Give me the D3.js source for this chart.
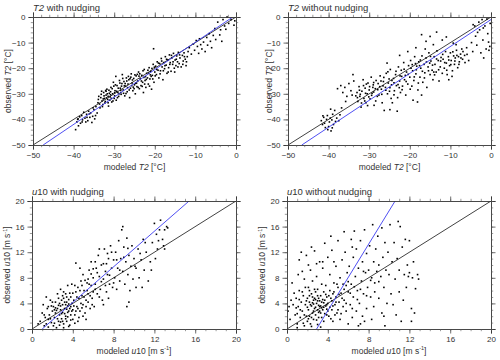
<!DOCTYPE html>
<html><head><meta charset="utf-8">
<script src="https://cdn.jsdelivr.net/npm/d3@7"></script>
<style>body{margin:0;background:#fff}svg{display:block;font-family:"Liberation Sans",Arial,sans-serif}</style>
</head><body><svg id="c" width="500" height="360"></svg>
<script>
const t2Ticks=[-50,-40,-30,-20,-10,0];
const u10Ticks=[0,4,8,12,16,20];
const t2Nudge=[[-39.5,-44],[-39.2,-41],[-39,-40],[-38.8,-42.5],[-38.5,-39],[-38.3,-41.5],[-38,-38.5],[-37.8,-40.2],[-37.5,-37.2],[-37.2,-39.5],[-37,-41],[-36.8,-38],[-36.5,-40.5],[-36.3,-36.8],[-36,-39.2],[-35.8,-37.5],[-35.5,-41.2],[-35.3,-38.8],[-35,-36.2],[-34.8,-39.8],[-34.5,-35],[-34.2,-37.5],
[-34,-33.5],[-33.8,-31],[-33.5,-35.5],[-33.2,-30.2],[-33,-32.8],[-32.8,-34.2],[-32.6,-29.5],[-32.4,-31.8],[-32.2,-33],[-32,-30.5],[-31.8,-28.2],[-31.6,-32.2],[-31.4,-34.8],[-31.2,-29.8],[-31,-31.2],[-30.8,-27.5],[-30.6,-33.2],[-30.4,-30],[-30.2,-25.5],[-30,-31.8],[-29.8,-28.8],[-29.6,-23.2],[-29.5,-32.5],[-29.3,-26.8],[-29.1,-29.5],[-28.9,-31],[-28.7,-24.8],[-28.5,-27.8],[-28.3,-30.2],[-28.1,-26],[-28,-22.5],
[-27.8,-28.5],[-27.6,-25.2],[-27.4,-30.8],[-27.2,-27],[-27,-23.8],[-26.8,-29.2],[-26.6,-26.2],[-26.4,-24.5],[-26.2,-31.5],[-26,-27.8],[-25.8,-22.2],[-25.6,-25.8],[-25.4,-28.8],[-25.2,-24],[-25,-26.5],[-24.8,-30],[-24.6,-23],[-24.4,-27.2],[-24.2,-25],[-24,-21.5],[-23.8,-28],[-23.6,-24.2],[-23.4,-26.8],[-23.2,-22.8],[-23,-25.5],[-22.8,-29.5],[-22.6,-20.5],[-22.4,-24.8],[-22.2,-27.5],[-22,-22],[-21.8,-23.8],[-21.6,-26.2],[-21.4,-19.8],[-21.2,-24.2],[-21,-21.2],[-20.8,-28.2],[-20.6,-22.8],[-20.4,-18.5],[-20.2,-25.5],[-20,-21.5],
[-27.5,-26.9],[-26.9,-25],[-26.1,-24.1],[-25.3,-27.4],[-24.7,-25.9],[-23.9,-23.1],[-23.1,-27.1],[-22.3,-23.3],[-21.5,-21.9],[-20.7,-20.1],[-29.9,-29.6],[-30.9,-30.4],[-31.5,-31],[-32.1,-28.7],[-28.4,-28.6],[-27.1,-29.9],[-25.9,-23.5],[-24.3,-22.4],[-22.9,-21],[-21.1,-22.6],[-20.3,-12.4],
[-19.8,-19.2],[-19.6,-22.5],[-19.4,-17.5],[-19.2,-20.8],[-19,-23.8],[-18.8,-18.2],[-18.6,-21],[-18.4,-16.2],[-18.2,-19.5],[-18,-24.5],[-17.8,-17.8],[-17.6,-20.2],[-17.4,-15.5],[-17.2,-18.8],[-17,-22],[-16.8,-16.8],[-16.6,-19.8],[-16.4,-14.8],[-16.2,-17.8],[-16,-21.2],[-15.8,-16],[-15.6,-18.5],[-15.4,-14.2],[-15.2,-20],[-15,-16.8],[-14.8,-19],[-14.6,-15.2],[-14.4,-17.5],[-14.2,-13.8],[-14,-18.2],[-13.8,-16],[-13.5,-19.5],[-13.2,-15],[-13,-17.2],[-12.8,-14],[-12.5,-16.5],[-12.3,-19],[-12,-15.5],
[-11.5,-12],[-11,-14.5],[-10.5,-10.5],[-10.2,-13],[-9.8,-9.2],[-9.5,-11.5],[-9.2,-14.2],[-9,-8.5],[-8.7,-10.8],[-8.4,-12.5],[-8,-9.8],[-7.6,-13.5],[-7.2,-8],[-7,-11],[-6.6,-6.5],[-6.3,-9.5],[-6,-12],[-5.6,-7.2],[-5.2,-4.5],[-5,-8.8],
[-4.5,-2],[-3.8,-5],[-3.2,-1],[-2.8,-3.5],[-2.2,0],[-1.8,-2.5],[-1.2,-1],[-0.5,-3.2],[-0.3,-1.5],[-2.5,-4.8],[-4,-7],[-3.5,-9.5],
[-33.9,-32.2],[-33.6,-34],[-33.3,-31.5],[-33.1,-29],[-32.9,-35],[-32.7,-32],[-32.5,-30.8],[-32.3,-33.6],[-32,-29],[-31.9,-31.6],[-31.7,-30],[-31.5,-33.5],[-31.3,-28.6],[-31.1,-32.5],[-30.9,-29.2],[-30.7,-31.8],[-30.5,-28],[-30.3,-32.8],[-30.1,-27],[-29.9,-30.8],[-29.7,-26.5],[-29.4,-29],[-29.2,-31.5],[-29,-27.8],[-28.8,-30],[-28.6,-25.8],[-28.4,-29.5],[-28.2,-27],[-27.9,-24],[-27.7,-29.8],[-27.3,-26],[-26.7,-27.6],[-26.5,-23.2],[-26.3,-28.5],[-25.7,-26.8],[-25.5,-24.6],[-25.1,-28],[-24.9,-22.6],[-24.5,-25.8],[-24.1,-27.5],[-23.7,-22.2],[-23.3,-25],[-22.7,-23.6],[-22.5,-26.2],[-22.1,-24.4],[-21.7,-20.8],[-21.3,-27],[-20.9,-23.2],[-20.5,-24.2],[-20.1,-19.6],[-19.9,-23],[-19.5,-20.5],[-19.1,-18],[-18.7,-22.2],[-18.3,-17.2],[-17.9,-21],[-17.5,-19],[-17.1,-16.5],[-16.7,-21.5],[-16.3,-18.5],[-15.9,-15],[-15.5,-17.5],[-15.1,-21.5],[-14.7,-16.5],[-14.3,-19.5],[-13.9,-14.8],[-13.1,-18.5],[-12.7,-15.5],[-12.2,-17.5],[-11.8,-13.5],[-36.7,-39.2],[-37.9,-41],[-35.2,-35.5],[-34.6,-38.5],[-38.9,-39.8],[-36.1,-37.8]];
const t2Free=[[-41.8,-40.5],[-41.5,-42],[-41.2,-39.2],[-41,-41.5],[-40.8,-43.2],[-40.5,-40],[-40.3,-38.5],[-40,-42.8],[-39.8,-41],[-39.6,-39.5],[-39.4,-44.5],[-39.2,-40.2],[-39,-38],[-38.8,-42],[-38.5,-36.5],[-38.3,-40.8],[-38,-39.5],[-37.5,-40.5],[-37.2,-38.2],[-39.5,-36],[-40.2,-44],[-39.1,-43.3],[-41.4,-38.6],
[-37.8,-28],[-37,-26.8],[-36.5,-29.5],[-36,-27.5],[-35.5,-31],[-35,-26],[-34.5,-28.8],[-34,-22.5],[-33.8,-25],[-35.8,-33],[-36.8,-35.5],[-34.2,-30.5],
[-33,-29.5],[-32.8,-33],[-32.5,-27.2],[-32.3,-31],[-32,-35.2],[-31.8,-29],[-31.5,-24.5],[-31.3,-31.8],[-31,-27.8],[-30.8,-33.5],[-30.5,-30],[-30.3,-25.8],[-30,-28.5],[-29.8,-32],[-29.5,-23.5],[-29.3,-29.8],[-29,-26.5],[-28.8,-34.5],[-28.5,-28],[-28.3,-24.8],[-28,-31],[-32.2,-30.2],[-31.1,-32.8],[-30.1,-31.2],[-29.1,-27.5],[-33.3,-30.8],[-30.7,-26.2],[-28.9,-29.3],
[-27.8,-26],[-27.6,-30.5],[-27.3,-23],[-27,-28.2],[-26.8,-33.5],[-26.5,-25.2],[-26.3,-36.5],[-26,-27.5],[-25.8,-22],[-25.5,-30],[-25.3,-25.8],[-25,-29],[-24.8,-20.5],[-24.5,-26.5],[-24.3,-33.5],[-24,-24],[-23.8,-28.8],[-23.5,-22.5],[-23.3,-26.8],[-23,-31.5],[-22.8,-19.5],[-22.5,-25],[-22.3,-29.5],[-22,-23.2],[-21.8,-27],[-21.5,-17.8],[-21.3,-24.5],[-21,-30.5],[-20.8,-21.5],[-20.5,-26.2],[-20.3,-19],[-20,-23.5],[-26.6,-26.9],[-25.1,-24.2],[-23.9,-25.7],[-22.6,-27.6],[-21.1,-22.8],[-27.1,-25],[-24.6,-31.8],[-22.1,-20.8],[-23.1,-36.8],[-24.9,-36.2],[-25.6,-18],
[-19.8,-17],[-19.5,-27],[-19.3,-21],[-19,-24.8],[-18.8,-15.5],[-18.5,-22.2],[-18.3,-19.2],[-18,-28.5],[-17.8,-17.5],[-17.5,-23.5],[-17.3,-20],[-17,-15.2],[-16.8,-25.5],[-16.5,-18.5],[-16.3,-21.8],[-16,-16],[-15.8,-27.5],[-15.5,-19.5],[-15.3,-14],[-15,-22.5],[-14.8,-17.2],[-14.5,-20.8],[-14.3,-24.5],[-14,-15.5],[-13.8,-18.5],[-13.5,-21.5],[-13.3,-13.2],[-13,-17],[-12.8,-25],[-12.5,-19.5],[-12.3,-15.8],[-12,-22],[-19.2,-32.5],[-18.1,-33.2],[-17.1,-30.5],[-16.2,-12.5],[-19.7,-20],[-18.6,-18.2],[-17.6,-19],[-15.1,-18],[-14.1,-21.5],
[-17.1,-6.9],[-15,-7.6],[-13.4,-5.9],[-9.3,-10.2],[-16,-9.5],[-14.2,-10.8],[-12,-9],[-18.5,-12],[-20.5,-13.5],[-22.5,-15],[-11,-7.8],
[-11.8,-16.5],[-11.5,-20],[-11.2,-13.5],[-11,-18],[-10.8,-22.5],[-10.5,-15.5],[-10.2,-19],[-10,-14],[-9.8,-17],[-9.5,-21],[-9.2,-15.2],[-9,-18.5],[-8.8,-16],[-8.5,-13],[-8.2,-19.8],[-8,-15.5],[-7.8,-17.5],[-7.5,-14.5],[-7.2,-12.5],[-7,-16.5],[-6.5,-15],[-6,-12],[-5.5,-17],[-10.4,-24.5],[-9.6,-23.2],[-8.6,-10.8],
[-4.8,-10],[-4.5,-13.5],[-4,-3.5],[-3.8,-7.5],[-3.5,-11],[-3,-2],[-2.8,-5],[-2.5,-14],[-2.2,-1],[-2,-9],[-1.5,-3.5],[-1.2,-12.5],[-1,-0.8],[-0.8,-6.5],[-0.5,-13],[-0.3,-11.5],[-0.2,-2.5],[-0.6,-9.8],[-1.8,-16],[-3.3,-6],[-4.4,-3],[-1.9,-4.3],
[-32.9,-31.5],[-32.4,-28.6],[-31.9,-33.6],[-31.4,-26.8],[-30.9,-29.8],[-30.4,-34.6],[-29.9,-27.2],[-29.4,-30.6],[-28.9,-25.6],[-28.4,-32.8],[-27.9,-28.4],[-27.4,-27.2],[-26.9,-30.2],[-26.4,-23.6],[-25.9,-28.6],[-25.4,-21.4],[-24.9,-27.6],[-24.4,-24.8],[-23.9,-30.4],[-23.4,-21.2],[-22.9,-26.4],[-22.4,-23],[-21.9,-28.4],[-21.4,-20.4],[-20.9,-25.2],[-20.4,-22.4],[-19.9,-28.2],[-19.4,-18.6],[-18.9,-23.4],[-18.4,-20.6],[-17.9,-25.8],[-17.4,-16.8],[-16.9,-21.2],[-16.4,-23.8],[-15.9,-17.6],[-15.4,-21],[-14.9,-15.4],[-14.4,-18.8],[-13.9,-22.6],[-13.4,-16.4],[-12.9,-20.6],[-12.4,-17.2],[-11.9,-14.6],[-11.4,-17.8],[-10.9,-20.8],[-10.4,-16.8],[-9.9,-18.6],[-9.4,-13.6],[-8.9,-17.2],[-8.4,-15],[-7.9,-18.5],[-7.4,-16],[-6.9,-13.5],[-6.4,-17.8],[-5.9,-14.6]];
const u10Nudge=[[0.8,1.2],[1,2.5],[1.2,0.5],[1.3,1.8],[1.5,3.2],[1.6,0.3],[1.7,2.2],[1.8,4.5],[1.9,1.0],[2,2.8],[1.1,3.8],[1.4,5],[0.6,0.8],[1.9,3.6],[1.6,1.5],
[2.1,0.5],[2.1,3.5],[2.2,1.8],[2.3,4.2],[2.3,2.5],[2.4,0.2],[2.5,3.2],[2.5,5.5],[2.6,1.2],[2.7,2.2],[2.7,4],[2.8,3],[2.8,6.2],[2.9,1.6],[3,3.8],[3,2.6],[3.1,4.8],[3.1,0.8],[3.2,3.2],[3.3,5.5],[3.3,2],[3.4,4.2],[3.4,1.2],[3.5,3.6],[3.5,6.8],[3.6,2.8],[3.6,4.6],[3.7,0.6],[3.7,3.2],[3.8,5],[3.8,2.2],[3.9,4],[3.9,7],[4,3],[4,1.5],[2.6,3.7],[2.9,4.5],[3.2,2.4],[3.6,3.9],[2.4,2.9],[3.0,5.2],[3.4,3.1],[2.2,3.0],[3.8,3.5],[3.5,1.9],[2.8,1.1],[3.3,3.8],[3.1,0.2],
[4.1,4.5],[4.2,2.2],[4.3,5.8],[4.4,3.5],[4.5,6.5],[4.5,1.2],[4.6,4.8],[4.7,2.8],[4.8,7.5],[4.9,5.2],[5,3.8],[5,8.5],[5.1,6],[5.2,2.5],[5.3,4.5],[5.4,7.2],[5.5,5.5],[5.6,9.2],[5.7,3.2],[5.8,6.8],[5.9,4.8],[6,8],[4.3,10.3],[4.7,9.5],[5.3,1.5],[4.2,6.8],[5.8,10.5],[6,5.8],[4.9,3.3],[5.5,7.8],
[6.1,3.5],[6.2,7],[6.3,9.5],[6.4,5.5],[6.5,11.5],[6.6,8.2],[6.7,6.2],[6.8,10],[6.9,4.5],[7,7.8],[7.1,12.5],[7.2,9],[7.3,5.8],[7.4,8.5],[7.5,11],[7.6,7],[7.7,13],[7.8,9.5],[7.9,6.5],[8,10.8],[6.6,12.5],[7,3.8],[7.5,4.8],[6.2,10.5],[7.3,10.2],
[8.1,8],[8.2,12],[8.3,6.2],[8.4,9.5],[8.5,13.8],[8.6,7.5],[8.7,11],[8.8,15.5],[8.9,9],[9,12.8],[9.1,7],[9.2,10.5],[9.3,14.2],[9.4,8.5],[9.5,11.5],[9.6,6],[9.7,9.8],[9.8,13],[9.9,7.8],[10,11],[8.9,16],[9.3,3.5],[10.2,6.5],[9.5,4.2],
[10.2,9.5],[10.4,12.5],[10.5,8],[10.7,10.8],[10.9,14],[11,9.2],[11.2,12],[11.4,7.5],[11.6,10.5],[11.8,13.5],[12,16.5],[12.1,11],[12.2,14.8],[12.3,12.5],[12.5,15.5],[12.6,17],[12.8,14],[12.9,13],[13,15.5],[13.2,16],[13.3,15.8],[11.7,9.2],[10.8,6.5],[12.4,13.8],[13,12.5],
[1.2,2.2],[1.4,0.8],[1.6,3.5],[1.8,1.6],[2,4.2],[2.2,0.9],[2.3,3.3],[2.5,1.6],[2.6,4.8],[2.7,0.6],[2.8,3.6],[2.9,2.4],[3,1.2],[3.1,5.8],[3.2,4.2],[3.3,1.6],[3.4,5],[3.5,2.6],[3.6,0.4],[3.7,5.6],[3.8,1.4],[3.9,2.8],[4,5.6],[4.1,3.6],[4.2,0.9],[4.3,2.8],[4.4,5],[4.5,3.2],[4.6,1.8],[4.7,6],[4.8,4],[4.9,6.8],[5,2],[5.1,5],[5.2,7.6],[5.3,3.5],[5.4,6],[5.5,4.2],[5.6,7],[5.7,5.2],[5.8,8.6],[5.9,3.8],[6,9.4],[6.2,6.2],[6.4,8.8],[6.6,5],[6.8,7.4],[7,10.2],[7.2,6.8],[7.4,11.8],[7.6,8.4],[7.8,12],[8,7.2],[8.3,10.8],[8.6,9.2],[9,11.2],[9.4,12.6],[10.1,9.8],[10.6,11.8],[11.1,13.5]];
const u10Free=[[0.1,2.8],[0.2,3.5],[0.3,1.5],[0.5,7.2],[0.6,3.8],[0.8,2.2],[0.9,4.8],[1,0.8],[1,0.2],[1.1,3.5],[1.2,10.8],[1.2,6],[1.3,1.8],[1.4,4.2],[1.5,9],[1.5,2.8],[1.6,5.2],[1.7,0.5],[1.7,7.8],[1.8,3.8],[1.9,2],[1.9,11.5],[2,4.8],[2,1.2],[0.4,4.5],[1.1,8.5],[1.4,12],[1.8,6.5],
[2.1,3],[2.1,6.5],[2.2,2],[2.2,4.2],[2.3,9.2],[2.3,0.8],[2.4,3.6],[2.4,5.5],[2.5,2.5],[2.5,7.5],[2.6,4.5],[2.6,1.5],[2.7,3.2],[2.7,12.2],[2.8,5.8],[2.8,2.2],[2.9,4],[2.9,8.2],[3,3],[3,6.2],[3.1,1.8],[3.1,4.8],[3.2,10.5],[3.2,3.5],[3.3,5.2],[3.3,2.5],[3.4,7],[3.4,4.2],[3.5,3],[3.5,9.5],[3.6,5.8],[3.6,1.2],[3.7,4.5],[3.7,13.4],[3.8,3.6],[3.8,6.8],[3.9,2.2],[3.9,5],[4,4],[4,11.2],[2.4,12.8],[2.9,10.2],[3.3,0.3],[2.2,5.2],[2.6,3.9],[3.0,4.4],[3.4,3.3],[3.6,4.1],[2.8,4.6],[3.2,2.8],[2.5,4.1],[3.9,3.1],[3.1,3.7],[2.7,6.2],
[4.1,2],[4.2,6],[4.2,8.5],[4.3,4.8],[4.4,3],[4.4,12.3],[4.5,5.5],[4.5,1.2],[4.6,7.2],[4.7,3.8],[4.8,9.8],[4.8,5],[4.9,2.5],[5,6.5],[5,13.8],[5.1,4.2],[5.2,8],[5.2,1.5],[5.3,5.6],[5.4,10.8],[5.5,3.5],[5.5,7],[5.6,4.5],[5.7,12],[5.8,2.8],[5.9,8.8],[6,5.8],[6,0.8],[4.3,14.5],[5.6,15.2],[4.6,10.5],[5.8,6.8],
[6.1,9.8],[6.2,3.8],[6.3,14],[6.3,7],[6.4,1.8],[6.5,11.2],[6.5,5],[6.6,15.3],[6.7,8.2],[6.8,2.8],[6.8,12.5],[6.9,6],[7,9.5],[7,0.5],[7.1,4],[7.2,13.8],[7.3,7.5],[7.4,10.5],[7.4,2],[7.5,5.5],[7.6,15.5],[7.7,8.8],[7.8,3.2],[7.8,11.8],[7.9,6.5],[8,9.2],[6.4,12.8],[7.2,0.8],[7.6,1.2],
[8.1,13],[8.2,5],[8.3,8],[8.4,16.3],[8.5,10.5],[8.5,3.5],[8.6,7.2],[8.7,12.5],[8.8,9],[8.9,14.5],[9,4.8],[9,10],[9.2,8.2],[9.3,15.8],[9.3,2.5],[9.4,11.2],[9.5,6.5],[9.6,13.5],[9.6,0.5],[9.7,9.2],[9.8,4],[9.9,12],[10,8.5],[10.1,16.3],[10.2,5.5],[8.3,1.5],[9.5,2],
[10.3,10.5],[10.4,3.8],[10.5,13.5],[10.6,7.8],[10.7,2.2],[10.8,11],[10.9,16.8],[11,5.8],[11,9.2],[11.1,16],[11.2,1.2],[11.3,12.8],[11.4,4.5],[11.5,8.5],[11.6,14],[11.7,6.5],[11.8,10],[12,8.8],[12,13.8],[12.2,3.2],[12.3,8],[12.4,10.5],[12.5,2.5],[12.6,6.3],[12.8,8.5],[12.9,7.8],[12.2,1.2],[11.9,8.2],
[1,2.4],[1.3,3],[1.5,5.8],[1.7,2.2],[1.9,4.4],[2,3.4],[2.1,1.6],[2.2,6],[2.3,3.8],[2.4,1.8],[2.5,5],[2.6,2.8],[2.7,4.8],[2.8,3.4],[2.9,1.4],[3,5.2],[3.1,2.6],[3.2,4.4],[3.3,3.6],[3.4,1.8],[3.5,4.6],[3.6,3.4],[3.7,2.4],[3.8,5.4],[3.9,3.8],[4,2.8],[4.1,5.2],[4.2,3.4],[4.3,1.6],[4.4,4.4],[4.5,3.6],[4.6,5.8],[4.7,2.2],[4.8,4.2],[4.9,7],[5,3],[5.1,5.4],[5.3,2.4],[5.4,4.8],[5.6,6.2],[5.8,4],[6,7.4],[6.2,5.6],[6.4,3.2],[6.6,6.6],[6.9,4.6],[7.2,6.2],[7.5,9],[7.8,5.2],[8.2,7.6],[8.6,5.8],[9,7.4],[1.6,0.9],[2.4,0.4],[3,0.7],[3.5,10.5],[2.1,10],[0.7,5.6],[1.2,4.6],[0.9,3.3]];
const t2NudgeFit=[[-47.5,-50],[-0.8,0]];
const t2FreeFit=[[-46.6,-50],[0,-1]];
const u10NudgeFit=[[1,0],[15.4,20]];
const u10FreeFit=[[2.9,0],[10.6,20]];

const svg=d3.select("#c");
const TXT="#333";
function panel(o){
  const g=svg.append("g");
  const x=d3.scaleLinear().domain(o.dom).range([o.x0,o.x1]);
  const y=d3.scaleLinear().domain(o.dom).range([o.y1,o.y0]);
  const clipId="clip"+o.id;
  svg.append("clipPath").attr("id",clipId).append("rect").attr("x",o.x0).attr("y",o.y0).attr("width",o.x1-o.x0).attr("height",o.y1-o.y0);
  g.append("g").selectAll("rect").data(o.pts).join("rect")
    .attr("x",d=>x(d[0])-0.8).attr("y",d=>y(d[1])-0.8).attr("width",1.6).attr("height",1.6).attr("fill","#000");
  const line=d3.line().x(d=>x(d[0])).y(d=>y(d[1]));
  g.append("path").attr("clip-path","url(#"+clipId+")").attr("d",line([[o.dom[0],o.dom[0]],[o.dom[1],o.dom[1]]])).attr("stroke","#111").attr("stroke-width",0.8).attr("fill","none");
  g.append("path").attr("clip-path","url(#"+clipId+")").attr("d",line(o.fit)).attr("stroke","#3b3bf0").attr("stroke-width",0.9).attr("fill","none");
  const minor=d3.range(o.dom[0],o.dom[1]+1e-9,o.minor);
  const mk=(axisFn,scale,tr,withLabels)=>{
    const a=axisFn(scale).tickValues(o.ticks).tickSize(4.5).tickPadding(3);
    if(!withLabels)a.tickFormat("");
    const ga=g.append("g").attr("transform",tr).call(a);
    ga.select(".domain").attr("stroke","#333").attr("stroke-width",0.9);
    ga.selectAll(".tick line").attr("stroke","#333").attr("stroke-width",0.7);
    ga.selectAll("text").attr("fill",TXT).attr("font-size",8).attr("font-family","Liberation Sans, Arial, sans-serif");
    const am=axisFn(scale).tickValues(minor).tickSize(2.2).tickFormat("");
    const gm=g.append("g").attr("transform",tr).call(am);
    gm.select(".domain").remove();
    gm.selectAll(".tick line").attr("stroke","#555").attr("stroke-width",0.6);
  };
  mk(d3.axisBottom,x,`translate(0,${o.y1})`,true);
  mk(d3.axisTop,x,`translate(0,${o.y0})`,false);
  mk(d3.axisLeft,y,`translate(${o.x0},0)`,true);
  mk(d3.axisRight,y,`translate(${o.x1},0)`,false);
  const t=g.append("text").attr("x",o.x0).attr("y",o.y0-6.5).attr("font-size",9.5).attr("fill",TXT);
  o.title(t);
  const xl=g.append("text").attr("x",(o.x0+o.x1)/2).attr("y",o.y1+24.5).attr("text-anchor","middle").attr("font-size",8.5).attr("fill",TXT);
  o.xlab(xl);
  const yl=g.append("text").attr("transform",`translate(${o.ylx},${(o.y0+o.y1)/2}) rotate(-90)`).attr("text-anchor","middle").attr("font-size",8.5).attr("fill",TXT);
  o.ylab(yl);
}
function t2(sel,pre,post){sel.append("tspan").text(pre);sel.append("tspan").attr("font-style","italic").text("T2");sel.append("tspan").text(post);}
function u10(sel,pre,post,sup){sel.append("tspan").text(pre);sel.append("tspan").attr("font-style","italic").text("u");sel.append("tspan").text("10"+post);
  if(sup){sel.append("tspan").attr("font-size",5.5).attr("dy",-3.5).text("-1");sel.append("tspan").attr("dy",3.5).text("]");}}

panel({id:1,dom:[-50,0],ticks:t2Ticks,minor:2,x0:33,x1:236,y0:17,y1:145,pts:t2Nudge,fit:t2NudgeFit,ylx:11,
  title:s=>t2(s,""," with nudging"),xlab:s=>t2(s,"modeled "," [°C]"),ylab:s=>t2(s,"observed "," [°C]")});
panel({id:2,dom:[-50,0],ticks:t2Ticks,minor:2,x0:288,x1:491,y0:17,y1:145,pts:t2Free,fit:t2FreeFit,ylx:272,
  title:s=>t2(s,""," without nudging"),xlab:s=>t2(s,"modeled "," [°C]"),ylab:s=>t2(s,"observed "," [°C]")});
panel({id:3,dom:[0,20],ticks:u10Ticks,minor:1,x0:32,x1:236,y0:201,y1:329,pts:u10Nudge,fit:u10NudgeFit,ylx:10,
  title:s=>u10(s,""," with nudging",false),xlab:s=>u10(s,"modeled "," [m s",true),ylab:s=>u10(s,"observed "," [m s",true)});
panel({id:4,dom:[0,20],ticks:u10Ticks,minor:1,x0:287,x1:491,y0:201,y1:329,pts:u10Free,fit:u10FreeFit,ylx:265,
  title:s=>u10(s,""," without nudging",false),xlab:s=>u10(s,"modeled "," [m s",true),ylab:s=>u10(s,"observed "," [m s",true)});
</script></body></html>
